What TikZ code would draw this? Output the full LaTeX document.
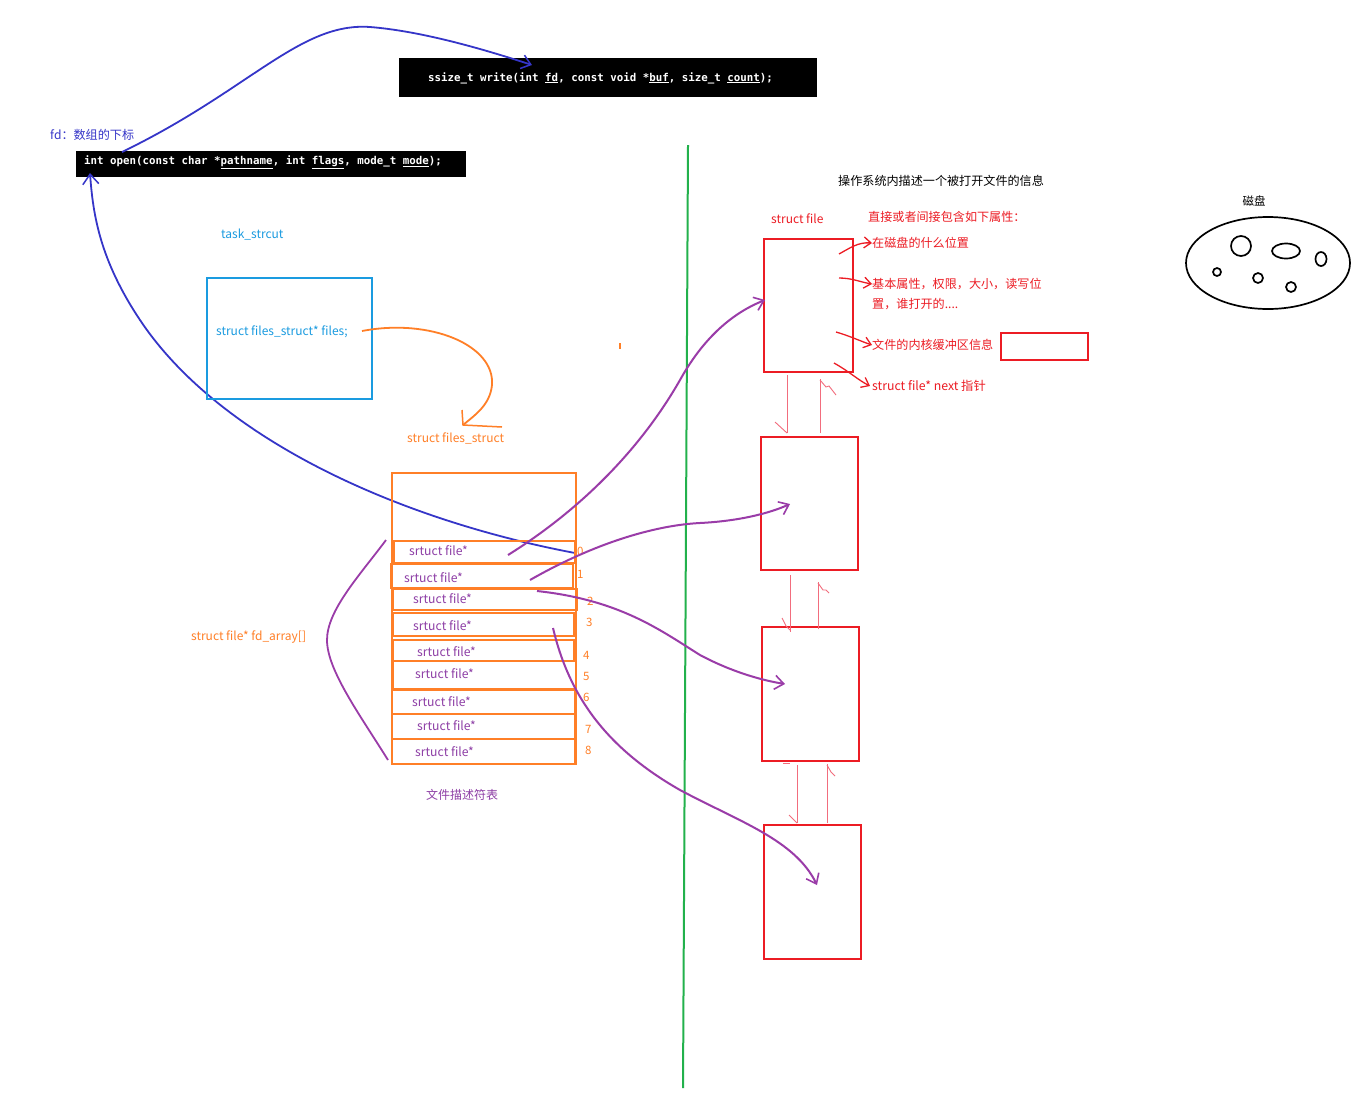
\documentclass[tikz,border=0pt]{standalone}
\usepackage{fontspec}
\setmainfont{Noto Sans CJK SC}
\newfontfamily\codefont{DejaVu Sans Mono}
\usetikzlibrary{arrows.meta}
\definecolor{cblue}{HTML}{3535C8}
\definecolor{lblue}{HTML}{1A9BE0}
\definecolor{corange}{HTML}{FF7F27}
\definecolor{cpurple}{HTML}{9A3CA8}
\definecolor{tpurple}{HTML}{8E3FA6}
\definecolor{cred}{HTML}{EC1C24}
\definecolor{cpink}{HTML}{F26D7D}
\definecolor{cgreen}{HTML}{22B14C}
\tikzset{
  txt/.style={anchor=west, inner sep=0pt, font=\fontsize{12}{14}\selectfont},
  cjk/.style={anchor=west, inner sep=0pt, font=\fontsize{12.1}{14}\selectfont},
  codebox/.style={fill=black, draw=black, inner sep=0pt, anchor=north west},
  codetxt/.style={anchor=west, inner sep=0pt, text=white, font=\codefont\bfseries\fontsize{10.8}{12}\selectfont},
  rowbox/.style={draw=corange, line width=2.4pt, anchor=north west, inner sep=0pt},
  rowtxt/.style={anchor=west, inner sep=0pt, text=tpurple, font=\fontsize{12.2}{14}\selectfont},
  idx/.style={anchor=west, inner sep=0pt, text=corange, font=\fontsize{11.5}{13}\selectfont},
  redbox/.style={draw=cred, line width=2.4pt, anchor=north west, inner sep=0pt},
  parr/.style={draw=cpurple, line width=2pt, -{Straight Barb[length=9pt,width=14pt,line width=1.6pt]}},
  rarr/.style={draw=cred, line width=1.3pt, -{Straight Barb[length=7pt,width=11pt]}},
  plink/.style={draw=cpink, line width=0.9pt},
  disk/.style={draw=black, line width=1.7pt},
}
\begin{document}
\begin{tikzpicture}[x=1pt,y=-1pt]
\useasboundingbox[fill=white] (0,0) rectangle (1372,1101);

% ---- code boxes
\node[codebox, minimum width=417pt, minimum height=38pt] (wbox) at (399,58) {};
\node[codetxt] (wtxt) at (428,78) {ssize\_t write(int \underline{fd}, const void *\underline{buf}, size\_t \underline{count});};
\node[codebox, minimum width=389pt, minimum height=25pt] (obox) at (76,151) {};
\node[codetxt] (otxt) at (84,162) {int open(const char *\underline{pathname}, int \underline{flags}, mode\_t \underline{mode});};

\node[cjk, text=cblue] (fdlbl) at (50,135) {fd：数组的下标};

% blue arrow open -> write
\coordinate (bw0) at (122,152);
\coordinate (bw1) at (532,65);
\draw[cblue, line width=1.8pt, -{Straight Barb[length=9pt,width=14pt,line width=1.5pt]}]
  (bw0) .. controls (250,90) and (300,22) .. (370,27) .. controls (420,31) and (480,48) .. (bw1);

% blue arrow fd[0] -> open
\coordinate (bf0) at (575,553);
\coordinate (bf1) at (90,173);
\draw[cblue, line width=1.8pt, -{Straight Barb[length=10pt,width=16pt,line width=1.5pt]}]
  (bf0) .. controls (400,520) and (220,440) .. (140,320) .. controls (100,260) and (93,215) .. (bf1);

% ---- task_struct
\node[txt, text=lblue] (task) at (221,235) {task\_strcut};
\node[draw=lblue, line width=2.3pt, anchor=north west, minimum width=165pt, minimum height=121pt, inner sep=0pt] (tbox) at (206,277) {};
\node[txt, text=lblue] (files) at (216,332) {struct files\_struct* files;};

% orange curve to files_struct
\coordinate (o0) at (362,331);
\coordinate (o1) at (463,425);
\draw[corange, line width=1.8pt] (o0) .. controls (430,318) and (495,345) .. (492,385) .. controls (490,405) and (475,415) .. (o1);
\draw[corange, line width=1.5pt] (462,410) -- (o1) -- (502,427);
\node[txt, text=corange] (fslbl) at (407,438) {struct files\_struct};

% ---- fd array
\node[rowbox, minimum width=184pt, minimum height=291pt] (arr) at (391,472) {};
\node[rowbox, minimum width=181pt, minimum height=22pt] (r0) at (393,540) {};
\node[rowbox, minimum width=182pt, minimum height=24pt] (r1) at (390,563) {};
\node[rowbox, minimum width=184pt, minimum height=21pt] (r2) at (392,588) {};
\node[rowbox, minimum width=181pt, minimum height=23pt] (r3) at (392,612) {};
\node[rowbox, minimum width=181pt, minimum height=21pt] (r4) at (392,639) {};
\node[rowbox, minimum width=183pt, minimum height=28pt] (r5) at (392,660) {};
\node[rowbox, minimum width=183pt, minimum height=24pt] (r6) at (391,689) {};
\node[rowbox, minimum width=183pt, minimum height=25pt] (r7) at (391,713) {};
\node[rowbox, minimum width=183pt, minimum height=25pt] (r8) at (391,738) {};

\node[rowtxt] (t0) at (409,551) {srtuct file*};
\node[rowtxt] (t1) at (404,578) {srtuct file*};
\node[rowtxt] (t2) at (413,599) {srtuct file*};
\node[rowtxt] (t3) at (413,626) {srtuct file*};
\node[rowtxt] (t4) at (417,652) {srtuct file*};
\node[rowtxt] (t5) at (415,674) {srtuct file*};
\node[rowtxt] (t6) at (412,702) {srtuct file*};
\node[rowtxt] (t7) at (417,726) {srtuct file*};
\node[rowtxt] (t8) at (415,752) {srtuct file*};

\node[idx] (i0) at (577,551) {0};
\node[idx] (i1) at (577,574) {1};
\node[idx] (i2) at (587,601) {2};
\node[idx] (i3) at (586,622) {3};
\node[idx] (i4) at (583,655) {4};
\node[idx] (i5) at (583,676) {5};
\node[idx] (i6) at (583,697) {6};
\node[idx] (i7) at (585,729) {7};
\node[idx] (i8) at (585,750) {8};

\node[txt, text=corange] (fdarr) at (191,637) {struct file* fd\_array[]};
\coordinate (br0) at (386,540);
\coordinate (br1) at (388,760);
\draw[cpurple, line width=1.8pt] (br0) .. controls (360,575) and (327,610) .. (327,640) .. controls (327,670) and (360,715) .. (br1);
\node[txt, text=tpurple] (fdt) at (426,795) {文件描述符表};

% ---- green divider
\coordinate (g0) at (688,145);
\coordinate (g1) at (683,1088);
\draw[cgreen, line width=2pt] (g0) -- (g1);
\fill[corange] (619.2,343) rectangle (620.8,349);

% ---- struct file boxes
\node[txt, text=cred] (sflbl) at (771,219) {struct file};
\node[redbox, minimum width=89pt, minimum height=133pt] (f1) at (763,238) {};
\node[redbox, minimum width=97pt, minimum height=133pt] (f2) at (760,436) {};
\node[redbox, minimum width=97pt, minimum height=134pt] (f3) at (761,626) {};
\node[redbox, minimum width=97pt, minimum height=134pt] (f4) at (763,824) {};

% links between boxes
\draw[plink] (787,375) -- (787,433); \draw[plink] (775,422) -- (787,433);
\draw[plink] (820,433) -- (820,379); \draw[plink] (820,380) -- (826,387) -- (829,386) -- (836,395);
\draw[plink] (790,575) -- (790,632); \draw[plink] (782,618) -- (786,626) -- (790,630);
\draw[plink] (818,629) -- (818,582); \draw[plink] (818,583) -- (823,590) -- (826,590) -- (829,593);
\draw[plink] (797,765) -- (797,823); \draw[plink] (789,815) -- (797,823);
\draw[plink] (827,823) -- (827,764); \draw[plink] (827,765) -- (831,772) -- (835,776);
\draw[plink] (783,763) -- (790,763);

% purple arrows
\coordinate (pa0) at (508,555); \coordinate (pa1) at (765,300);
\draw[parr] (pa0) .. controls (580,510) and (640,450) .. (680,380) .. controls (705,335) and (735,312) .. (pa1);
\coordinate (pb0) at (530,580); \coordinate (pb1) at (790,504);
\draw[parr] (pb0) .. controls (600,540) and (660,525) .. (700,523) .. controls (740,521) and (770,513) .. (pb1);
\coordinate (pc0) at (537,591); \coordinate (pc1) at (785,684);
\draw[parr] (pc0) .. controls (620,600) and (660,630) .. (700,655) .. controls (730,671) and (760,680) .. (pc1);
\coordinate (pd0) at (553,628); \coordinate (pd1) at (817,885);
\draw[parr] (pd0) .. controls (570,700) and (610,750) .. (680,790) .. controls (740,822) and (795,840) .. (pd1);

% ---- annotations
\node[cjk, text=black] (ostitle) at (838,181) {操作系统内描述一个被打开文件的信息};
\node[cjk, text=cred] (attr) at (868,217) {直接或者间接包含如下属性：};
\node[cjk, text=cred] (a1) at (872,243) {在磁盘的什么位置};
\node[cjk, text=cred] (a2) at (872,284) {基本属性，权限，大小，读写位};
\node[cjk, text=cred] (a2b) at (872,304) {置，谁打开的....};
\node[cjk, text=cred] (a3) at (872,345) {文件的内核缓冲区信息};
\node[cjk, text=cred, font=\fontsize{12.3}{14}\selectfont] (a4) at (872,386) {struct file* next 指针};
\node[redbox, minimum width=87pt, minimum height=27pt] (buf) at (1000,332) {};

\coordinate (q1) at (839,254);
\draw[rarr] (q1) .. controls (850,248) and (858,242) .. (a1.west);
\coordinate (q2) at (839,278);
\draw[rarr] (q2) .. controls (852,278) and (860,282) .. (a2.west);
\coordinate (q3) at (836,332);
\draw[rarr] (q3) .. controls (850,336) and (860,341) .. (a3.west);
\coordinate (q4) at (834,363);
\draw[rarr] (q4) .. controls (850,372) and (858,380) .. ([xshift=-2pt]a4.west);

% ---- disk
\node[cjk, text=black, anchor=center, font=\fontsize{11.5}{13}\selectfont] (disklbl) at (1254,201) {磁盘};
\draw[disk] (1268,263) ellipse [x radius=82, y radius=46];
\draw[disk] (1241,246) circle [radius=10];
\draw[disk] (1286,251) ellipse [x radius=14, y radius=7.5];
\draw[disk] (1321,259) ellipse [x radius=5.5, y radius=7];
\draw[disk] (1217,272) circle [radius=4];
\draw[disk] (1258,278) circle [radius=5];
\draw[disk] (1291,287) circle [radius=5];
\end{tikzpicture}
\end{document}
